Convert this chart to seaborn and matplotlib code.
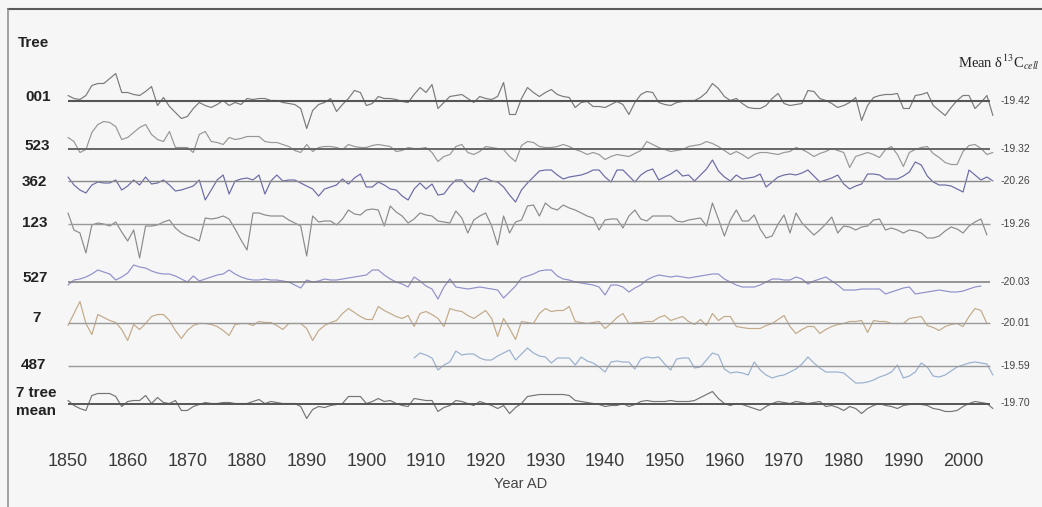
import numpy as np
import pandas as pd
import seaborn as sns
import matplotlib
matplotlib.use("Agg")
import matplotlib.pyplot as plt
from matplotlib.lines import Line2D

# ---------------------------------------------------------------
# Annual d13C anomalies (per mil, relative to each tree's mean)
# ---------------------------------------------------------------
TREES = ["001", "523", "362", "123", "527", "7", "487", "7 tree\nmean"]
START_YEARS = [1850, 1850, 1850, 1850, 1850, 1850, 1908, 1850]
TREE_MEANS = [-19.42, -19.32, -20.26, -19.26, -20.03, -20.01, -19.59, -19.70]

t001 = [0.5, 0.2, 0.1, 0.5, 1.5, 1.7, 1.7, 2.2, 2.7, 0.8,
        0.8, 0.6, 0.5, 0.9, 1.4, -0.5, 0.3, -0.6, -1.2, -1.8,
        -1.6, -0.8, -0.2, -0.5, -0.7, -0.4, 0.0, -0.5, -0.2, -0.4,
        0.2, 0.1, 0.2, 0.2, 0.0, 0.0, -0.2, -0.3, -0.4, -0.8,
        -2.8, -1.0, -0.4, -0.2, 0.2, -1.1, -0.4, 0.2, 1.0, 0.8,
        -0.5, -0.3, 0.4, 0.2, 0.2, 0.1, -0.1, -0.2, 0.6, 1.3,
        0.8, 1.6, -0.8, -0.2, 0.4, 0.5, 0.6, 0.2, -0.2, 0.4,
        0.2, 0.1, 0.4, 1.8, -1.4, -1.4, 0.2, 1.3, 0.8, 0.4,
        0.8, 1.1, 0.6, 0.4, 0.3, -0.7, -0.2, -0.1, -0.6, -0.6,
        -0.7, -0.4, -0.1, -0.4, -1.4, -0.2, 0.6, 0.9, 0.8, -0.2,
        -0.4, -0.5, -0.2, -0.1, 0.0, 0.0, 0.3, 0.8, 1.7, 1.2,
        0.4, 0.0, 0.2, -0.3, -0.7, -0.8, -0.8, -0.5, 0.2, 0.7,
        -0.3, -0.5, -0.4, -0.3, 1.0, 0.9, 0.2, 0.0, -0.3, -0.7,
        -0.5, -0.2, 0.3, -2.0, -0.5, 0.3, 0.5, 0.6, 0.6, 0.7,
        -0.8, -0.8, 0.5, 0.6, 0.8, -0.5, -1.0, -1.5, -0.7, 0.0,
        0.5, 0.5, -0.8, -0.2, 0.5, -1.5]

t523 = [1.1, 0.7, -0.4, -0.1, 1.6, 2.4, 2.7, 2.6, 2.2, 0.9,
        1.1, 1.6, 2.1, 2.4, 1.4, 0.9, 0.7, 1.7, 0.1, 0.1,
        0.1, -0.4, 1.4, 1.7, 0.7, 0.6, 0.4, 1.1, 0.9, 1.0,
        1.2, 1.2, 1.2, 0.7, 0.6, 0.6, 0.4, 0.2, -0.2, -0.4,
        0.4, -0.3, 0.1, 0.2, 0.2, 0.1, -0.1, 0.4, 0.2, 0.1,
        0.1, 0.3, 0.4, 0.3, 0.2, -0.3, -0.2, 0.1, 0.0, 0.0,
        0.1, -0.4, -1.3, -0.8, -0.6, 0.2, 0.4, -0.4, -0.6, -0.3,
        0.2, 0.1, 0.0, -0.1, -0.8, -1.3, 0.3, 0.7, 0.6, 0.2,
        0.1, 0.1, 0.2, 0.4, 0.2, -0.1, -0.3, -0.6, -0.4, -0.6,
        -1.1, -0.8, -0.6, -0.7, -0.8, -0.5, -0.2, 0.7, 0.4, 0.1,
        -0.1, -0.3, -0.2, -0.1, 0.2, 0.3, 0.4, 0.7, 0.5, 0.2,
        -0.2, -0.6, -0.3, -0.6, -1.0, -0.6, -0.4, -0.4, -0.5, -0.6,
        -0.4, -0.3, 0.1, -0.1, -0.4, -0.8, -0.5, -0.3, 0.0, -0.2,
        -0.4, -1.9, -0.8, -0.6, -0.4, -0.6, -0.9, -0.1, 0.2, -0.6,
        -1.8, -0.4, -0.1, 0.1, 0.2, -0.5, -0.9, -1.4, -1.6, -1.6,
        -0.3, 0.3, 0.4, 0.0, -0.6, -0.4]

t362 = [0.4, -0.4, -0.9, -1.2, -0.4, -0.1, -0.2, -0.2, 0.1, -0.9,
        -0.5, 0.1, -0.4, 0.4, -0.3, -0.2, 0.1, -0.4, -1.0, -0.9,
        -0.7, -0.5, 0.1, -1.9, -0.9, 0.1, 0.6, -1.3, 0.0, 0.2,
        0.3, 0.1, 0.6, -1.3, 0.0, 0.6, 0.0, 0.1, 0.1, -0.2,
        -0.5, -0.8, -1.5, -0.8, -0.6, -0.4, 0.2, -0.3, 0.3, 0.7,
        -0.6, -0.6, -0.1, -0.4, -0.8, -0.9, -1.5, -1.9, -0.8, -0.2,
        -0.8, -0.3, -1.4, -1.3, -0.5, 0.1, 0.1, -0.6, -1.1, 0.1,
        0.3, 0.0, -0.1, -0.6, -1.4, -2.1, -0.9, -0.2, 0.4, 1.0,
        1.1, 1.1, 0.6, 0.2, 0.4, 0.5, 0.6, 0.8, 1.1, 1.1,
        0.4, -0.1, 1.1, 1.1, 0.5, -0.1, 0.6, 1.0, 1.2, 0.1,
        0.4, 0.7, 1.1, 0.5, 0.6, 0.0, 0.6, 1.2, 2.1, 1.0,
        0.4, 0.0, 0.6, 0.2, 0.3, 0.4, 0.7, -0.6, -0.1, 0.4,
        0.6, 0.7, 0.6, 0.8, 1.1, 0.5, -0.1, 0.1, 0.3, 0.6,
        -0.3, -0.8, -0.5, -0.3, 0.7, 0.7, 0.6, 0.2, 0.2, 0.2,
        0.5, 0.9, 1.9, 1.6, 0.5, -0.1, -0.4, -0.4, -0.5, -0.8,
        -1.1, 1.1, 0.6, 0.1, 0.4, 0.0]

t123 = [1.1, -0.6, -0.9, -2.9, -0.1, 0.1, 0.0, -0.2, 0.2, -0.8,
        -1.7, -0.6, -3.4, -0.2, -0.2, -0.1, 0.2, 0.4, -0.4, -0.9,
        -1.2, -1.4, -1.7, 0.6, 0.5, 0.6, 0.8, 0.5, -0.5, -1.6,
        -2.6, 1.1, 1.1, 0.9, 0.8, 0.8, 0.8, 0.4, 0.1, -0.2,
        -3.2, 0.8, 0.2, 0.3, 0.3, -0.1, 0.5, 1.4, 1.0, 0.9,
        1.4, 1.5, 1.4, -0.2, 1.8, 1.2, 0.8, 0.1, 0.5, 1.1,
        0.9, 0.8, 0.3, 0.2, 0.1, 1.3, 0.6, -0.9, 0.4, 0.8,
        1.1, -0.2, -2.1, 0.8, -0.9, 0.2, 0.4, 1.8, 1.9, 0.8,
        2.1, 1.6, 1.4, 1.9, 1.6, 1.4, 1.1, 0.8, 0.6, -0.6,
        0.4, 0.5, 0.5, -0.4, 0.8, 1.4, 0.5, 0.3, 0.8, 0.8,
        0.8, 0.8, 0.3, 0.2, 0.4, 0.5, 0.6, -0.2, 2.1, 0.5,
        -1.2, 0.4, 1.4, 0.3, 0.3, 0.9, -0.5, -1.4, -1.2, 0.0,
        0.9, -0.9, 1.1, 0.1, -0.5, -1.1, -0.6, 0.0, 0.7, -0.9,
        -0.2, -0.3, -0.6, -0.3, -0.2, 0.4, 0.5, -0.6, -0.4, -0.6,
        -0.9, -0.6, -0.7, -0.9, -1.4, -1.4, -1.2, -0.7, -0.3, -0.5,
        -0.9, -0.2, 0.2, 0.5, -1.1]

t527 = [-0.3, 0.2, 0.3, 0.5, 0.8, 1.2, 1.0, 0.8, 0.2, 0.5,
        0.9, 1.7, 1.5, 1.4, 1.1, 0.9, 0.8, 0.8, 0.6, 0.3,
        0.0, 0.6, 0.1, 0.3, 0.5, 0.7, 0.8, 1.2, 0.8, 0.5,
        0.3, 0.2, 0.2, 0.3, 0.2, 0.2, 0.1, 0.0, -0.3, -0.6,
        0.2, 0.0, 0.1, 0.3, 0.2, 0.2, 0.3, 0.4, 0.5, 0.6,
        0.7, 1.2, 1.2, 0.7, 0.3, 0.0, -0.2, -0.5, 0.5, 0.1,
        -0.4, -0.7, -1.7, -0.5, 0.3, -0.5, -0.6, -0.7, -0.6, -0.5,
        -0.6, -0.7, -0.8, -1.6, -1.0, -0.4, 0.4, 0.6, 0.8, 1.1,
        1.2, 1.2, 0.6, 0.3, 0.2, 0.0, -0.1, -0.2, -0.3, -0.5,
        -1.3, -0.3, -0.3, -0.5, -1.0, -0.6, -0.3, 0.2, 0.5, 0.7,
        0.6, 0.5, 0.6, 0.5, 0.4, 0.5, 0.6, 0.7, 0.8, 0.8,
        0.3, 0.0, -0.3, -0.5, -0.5, -0.5, -0.3, 0.0, 0.3, 0.3,
        0.2, 0.2, 0.5, 0.3, -0.2, 0.1, 0.3, 0.5, 0.1, -0.3,
        -0.8, -0.8, -0.8, -0.7, -0.7, -0.7, -0.7, -1.2, -1.0, -0.8,
        -0.6, -0.5, -1.2, -1.1, -1.0, -0.9, -0.8, -0.9, -1.0, -1.0,
        -0.9, -0.7, -0.5, -0.4]

t7 = [-0.3, 0.9, 2.1, -0.1, -1.2, 0.8, 0.5, 0.2, 0.0, -0.7,
      -1.8, -0.2, -0.7, -0.1, 0.6, 0.8, 0.8, 0.2, -0.8, -1.6,
      -0.8, -0.3, -0.1, -0.1, -0.2, -0.4, -0.8, -1.3, -0.2, -0.1,
      -0.1, -0.3, 0.1, 0.0, 0.0, -0.3, -0.7, -0.1, -0.1, -0.1,
      -0.6, -1.8, -0.8, -0.3, 0.0, 0.2, 0.9, 1.4, 1.0, 0.6,
      0.3, 0.3, 1.6, 1.2, 0.9, 0.6, 0.4, 0.7, -0.4, 0.9,
      1.1, 0.8, 0.4, -0.4, 1.4, 1.2, 1.1, 0.7, 0.4, 0.8,
      1.2, 0.4, -1.4, 0.4, -0.6, -1.7, 0.1, 0.0, -0.1, 0.9,
      1.4, 1.1, 1.2, 1.2, 1.6, 0.1, 0.0, -0.1, 0.0, 0.1,
      -0.6, -0.1, 0.5, 0.9, -0.1, 0.0, 0.0, 0.1, 0.1, 0.5,
      0.7, 0.2, 0.4, 0.6, 0.1, -0.2, 0.3, -0.3, 0.9, 0.2,
      0.6, 0.6, -0.4, -0.5, -0.6, -0.6, -0.6, -0.3, -0.1, 0.3,
      0.7, -0.4, -1.1, -0.7, -0.4, -0.4, -1.1, -0.7, -0.4, -0.2,
      -0.1, 0.1, 0.1, 0.2, -1.0, 0.2, 0.1, 0.1, -0.1, -0.1,
      -0.1, 0.4, 0.5, 0.6, -0.3, -0.5, -0.8, -0.4, -0.2, -0.1,
      -0.4, 0.6, 1.4, 1.2, -0.1]

t487 = [0.8, 1.3,
        1.1, 0.8, -0.4, 0.1, 0.4, 1.5, 1.1, 1.2, 1.2, 0.8,
        0.6, 0.6, 1.0, 1.3, 1.6, 0.6, 1.2, 1.8, 1.3, 1.0,
        0.9, 0.3, 0.8, 0.8, 0.8, 0.1, 0.9, 0.5, 0.3, -0.1,
        -0.6, 0.4, 0.5, 0.4, 0.4, -0.3, 0.7, 0.9, 0.8, 0.9,
        0.2, -0.4, 0.7, 0.8, 0.8, -0.2, -0.1, 0.6, 1.3, 1.1,
        -0.3, -0.7, -0.6, -0.7, -0.9, 0.4, -0.4, -0.9, -1.2, -1.0,
        -0.9, -0.6, -0.3, 0.2, 0.9, 0.3, -0.2, -0.6, -0.6, -0.6,
        -0.7, -1.2, -1.7, -1.7, -1.6, -1.4, -1.1, -0.9, -0.6, 0.1,
        -1.2, -1.0, -0.6, 0.3, -0.1, -1.0, -1.1, -0.9, -0.5, -0.1,
        0.1, 0.3, 0.4, 0.3, 0.2, -0.9]

tmean = [0.3, -0.2, -0.5, -0.7, 0.8, 1.0, 1.0, 1.0, 0.7, -0.3,
         0.2, 0.3, 0.3, 0.8, 0.0, 0.6, 0.1, 0.0, 0.3, -0.7,
         -0.7, -0.3, -0.1, 0.1, 0.0, 0.0, 0.1, 0.1, 0.0, 0.0,
         0.0, 0.2, 0.4, 0.0, 0.2, 0.1, 0.0, 0.0, 0.0, -0.3,
         -1.5, -0.6, -0.3, -0.4, -0.2, -0.1, 0.0, 0.7, 0.7, 0.7,
         0.0, 0.2, 0.5, 0.2, 0.3, 0.0, -0.2, -0.3, 0.5, 0.4,
         0.3, 0.3, -0.8, -0.4, -0.2, 0.3, 0.2, 0.0, -0.2, 0.2,
         0.0, -0.2, -0.5, -0.2, -1.0, -0.4, 0.0, 0.7, 0.8, 0.9,
         0.9, 0.9, 0.9, 0.9, 0.8, 0.3, 0.2, 0.1, 0.0, -0.1,
         -0.3, -0.2, -0.2, 0.0, -0.3, -0.1, 0.2, 0.3, 0.2, 0.2,
         0.2, 0.3, 0.2, 0.2, 0.2, 0.3, 0.6, 0.9, 1.2, 0.5,
         0.0, -0.2, 0.0, -0.1, -0.3, -0.5, -0.7, -0.3, 0.0, 0.2,
         0.1, 0.0, 0.2, 0.1, 0.0, 0.1, 0.2, -0.3, -0.2, -0.4,
         -0.7, -0.3, -0.5, -1.0, -0.5, -0.2, 0.0, -0.2, -0.3, -0.5,
         -0.2, -0.1, 0.0, -0.1, -0.2, -0.5, -0.6, -0.8, -0.8, -0.7,
         -0.3, 0.0, 0.2, 0.1, 0.0, -0.5]

SERIES = [t001, t523, t362, t123, t527, t7, t487, tmean]
X_TICKS = list(range(1850, 2001, 10))

# ---------------------------------------------------------------
# Layout / style
# ---------------------------------------------------------------
W, H = 1042, 507
ROW_Y = [100.5, 148.5, 181, 224, 282, 322.5, 366, 403.5]   # pixel rows of baselines
LINE_COLORS = ["#7a7a7a", "#959893", "#6a6aa6", "#8a8a8a",
               "#9090cc", "#c2aa88", "#98b0cf", "#747474"]
BASE_COLORS = ["#555555", "#666666", "#8a8a8a", "#999999",
               "#7a7a7a", "#9a9a9a", "#9a9a9a", "#555555"]
BASE_LW = [1.5, 1.4, 1.0, 1.0, 1.1, 1.0, 1.0, 1.4]
LABEL_POS = [(25, 97), (24, 146), (22, 182), (22, 223), (22, 278),
             (32, 318), (21, 365), (16, 402)]

sns.set_theme(style="white")
plt.rcParams["font.family"] = ["Liberation Sans", "DejaVu Sans"]
plt.rcParams["mathtext.fontset"] = "stix"

BG = "#f6f6f6"
fig = plt.figure(figsize=(W / 100, H / 100), dpi=100, facecolor=BG)

AX_BOTTOM_PX = 449
ax = fig.add_axes([0, (H - AX_BOTTOM_PX) / H, 1, AX_BOTTOM_PX / H])
ax.set_facecolor(BG)
PX_PER_YEAR = 5.967
X0_PX = 68
ax.set_xlim(1850 - X0_PX / PX_PER_YEAR, 1850 + (W - X0_PX) / PX_PER_YEAR)
ax.set_ylim(-AX_BOTTOM_PX / 10, 0)   # 10 px per per-mil unit

for i, vals in enumerate(SERIES):
    base = -ROW_Y[i] / 10
    years = np.arange(START_YEARS[i], START_YEARS[i] + len(vals))
    df = pd.DataFrame({"year": years, "y": base + np.asarray(vals)})
    ax.hlines(base, 1850, 2004.6, color=BASE_COLORS[i], lw=BASE_LW[i], zorder=3)
    sns.lineplot(data=df, x="year", y="y", ax=ax, color=LINE_COLORS[i],
                 lw=0.85, estimator=None, zorder=2)

ax.set_xticks(X_TICKS)
ax.set_xticklabels([str(t) for t in X_TICKS])
ax.set_yticks([])
ax.tick_params(axis="x", length=0, pad=3, labelsize=13, labelcolor="#3a3a3a")
for s in ax.spines.values():
    s.set_visible(False)
ax.set_xlabel("Year AD", fontsize=10.5, color="#444444", labelpad=5)
ax.set_ylabel("")


def fig_text(x, y, s, **kw):
    fig.text(x / W, 1 - y / H, s, **kw)


fig_text(18, 43, "Tree", fontsize=11, fontweight="bold", color="#222222", va="center")
for (x, y), name in zip(LABEL_POS, TREES):
    fig_text(x, y, name, fontsize=11, fontweight="bold", color="#222222",
             va="center", linespacing=1.35)
for y, m in zip(ROW_Y, TREE_MEANS):
    fig_text(1001, y, f"{m:.2f}", fontsize=7.5, color="#444444", va="center")
fig_text(958, 62, "Mean δ$^{13}$C$_{cell}$", fontsize=10.5,
         family="Liberation Serif", color="#222222", va="center")

# outer frame
fig.add_artist(Line2D([8 / W, 1.0], [1 - 9 / H, 1 - 9 / H],
                      transform=fig.transFigure, color="#5a5a5a", lw=1.5))
fig.add_artist(Line2D([8 / W, 8 / W], [1 - 9 / H, 0.0],
                      transform=fig.transFigure, color="#8a8a8a", lw=1.1))

fig.savefig("out.png", dpi=100, facecolor=BG)
